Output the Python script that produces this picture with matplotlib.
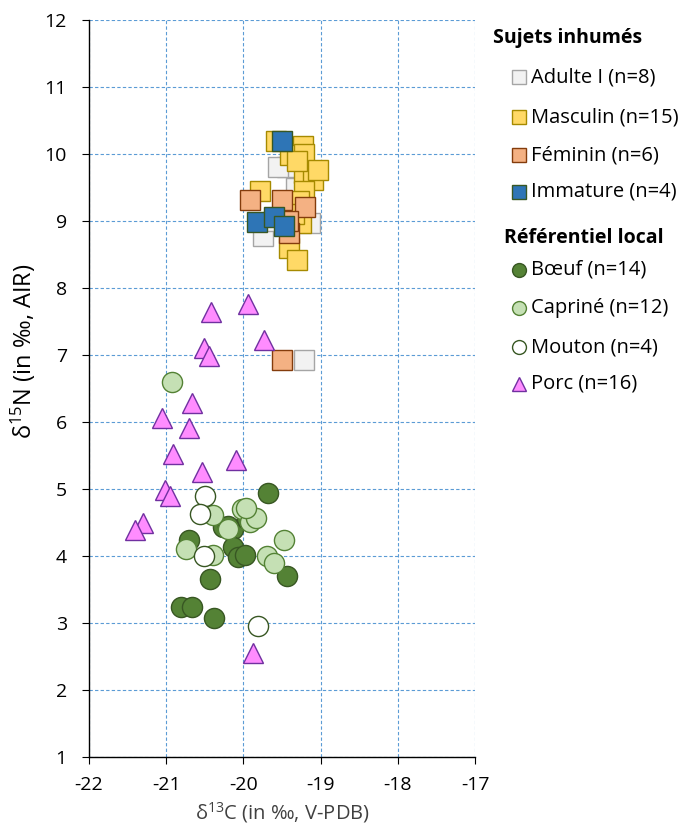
import matplotlib
matplotlib.use('Agg')
import matplotlib.pyplot as plt
from matplotlib.lines import Line2D

plt.rcParams['font.family'] = ['Open Sans', 'DejaVu Sans']
plt.rcParams['mathtext.default'] = 'regular'
plt.rcParams['axes.unicode_minus'] = False

# data (d13C, d15N)
adulte_x = [-19.21, -19.75, -19.44, -19.14, -19.32, -19.55, -19.30, -19.60]
adulte_y = [6.92, 8.77, 9.81, 8.97, 9.49, 9.81, 9.20, 9.00]

masc_x = [-19.23, -19.40, -19.21, -19.21, -19.10, -19.03, -19.78, -19.21,
          -19.25, -19.41, -19.31, -19.30, -19.28, -19.35, -19.58]
masc_y = [10.12, 9.99, 10.00, 9.71, 9.61, 9.76, 9.45, 9.44,
          8.97, 8.59, 8.42, 9.90, 9.30, 9.10, 10.20]

fem_x = [-19.91, -19.50, -19.20, -19.41, -19.50, -19.42]
fem_y = [9.31, 9.31, 9.21, 8.82, 6.92, 9.00]

imm_x = [-19.50, -19.82, -19.60, -19.48]
imm_y = [10.20, 8.99, 9.06, 8.93]

boeuf_x = [-19.68, -20.71, -20.26, -20.13, -20.13, -20.07, -19.98,
           -19.44, -20.43, -20.81, -20.66, -20.38, -19.95, -20.20]
boeuf_y = [4.94, 4.24, 4.44, 4.41, 4.14, 3.99, 4.01,
           3.70, 3.65, 3.24, 3.24, 3.07, 4.55, 4.45]

capr_x = [-20.92, -20.40, -20.02, -19.91, -19.84, -20.20, -20.75,
          -20.39, -19.70, -19.60, -19.47, -19.97]
capr_y = [6.60, 4.61, 4.70, 4.51, 4.57, 4.41, 4.10,
          4.01, 4.00, 3.89, 4.24, 4.72]

mouton_x = [-20.50, -20.56, -20.51, -19.81]
mouton_y = [4.90, 4.63, 4.00, 2.96]

porc_x = [-20.42, -19.94, -19.73, -20.51, -20.45, -20.67, -21.06, -20.70,
          -20.91, -20.09, -20.54, -21.01, -20.95, -21.30, -21.40, -19.88]
porc_y = [7.64, 7.76, 7.22, 7.10, 6.98, 6.28, 6.06, 5.91,
          5.52, 5.43, 5.26, 4.99, 4.89, 4.49, 4.39, 2.55]

series = [
    ('Adulte I (n=8)', adulte_x, adulte_y, 's', '#F2F2F2', '#A5A5A5'),
    ('Masculin (n=15)', masc_x, masc_y, 's', '#FFD966', '#A68A00'),
    ('Féminin (n=6)', fem_x, fem_y, 's', '#F4B183', '#843C0C'),
    ('Immature (n=4)', imm_x, imm_y, 's', '#2E75B6', '#385723'),
    ('Bœuf (n=14)', boeuf_x, boeuf_y, 'o', '#548235', '#385723'),
    ('Capriné (n=12)', capr_x, capr_y, 'o', '#C5E0B4', '#548235'),
    ('Mouton (n=4)', mouton_x, mouton_y, 'o', '#FFFFFF', '#385723'),
    ('Porc (n=16)', porc_x, porc_y, '^', '#FF8CFF', '#7030A0'),
]

fig = plt.figure(figsize=(6.82, 8.31), dpi=100)
ax = fig.add_axes([0.1305, 0.089, 0.566, 0.887])

for lab, xs, ys, m, fc, ec in series:
    ax.plot(xs, ys, ls='none', marker=m, ms=14.5, mfc=fc, mec=ec, mew=1.0, zorder=3)

ax.set_xlim(-22, -17)
ax.set_ylim(1, 12)
ax.set_xticks(range(-22, -16))
ax.set_yticks(range(1, 13))
ax.grid(True, color='#5B9BD5', ls=(0, (3, 2)), lw=0.8)
for s in ['top', 'right']:
    ax.spines[s].set_visible(False)
for s in ['left', 'bottom']:
    ax.spines[s].set_linewidth(1.0)
ax.tick_params(labelsize=14, length=5, direction='out')
ax.tick_params(axis='y', pad=11)
ax.tick_params(axis='x', pad=9)
ax.set_xlabel('δ$^{13}$C (in ‰, V-PDB)', fontsize=14.5, labelpad=4, color='#404040')
ax.set_ylabel('δ$^{15}$N (in ‰, AIR)', fontsize=17)
ax.yaxis.set_label_coords(-0.133, 0.551)

# legend drawn by hand, two groups with bold headers
def fx(px):
    return px / 682.0

def fy(py):
    return 1 - py / 831.0

fig.text(fx(493), fy(38), 'Sujets inhumés', fontsize=14, fontweight='bold', va='center')
fig.text(fx(504), fy(238), 'Référentiel local', fontsize=14, fontweight='bold', va='center')
rows = [77, 117, 155, 192, 270, 308, 347, 384]
for (lab, xs, ys, m, fc, ec), py in zip(series, rows):
    fig.add_artist(Line2D([fx(519)], [fy(py)], transform=fig.transFigure, ls='none',
                          marker=m, ms=10, mfc=fc, mec=ec, mew=1.0))
    fig.text(fx(531), fy(py), lab, fontsize=14.5, va='center')

fig.savefig('out.png', dpi=100)
